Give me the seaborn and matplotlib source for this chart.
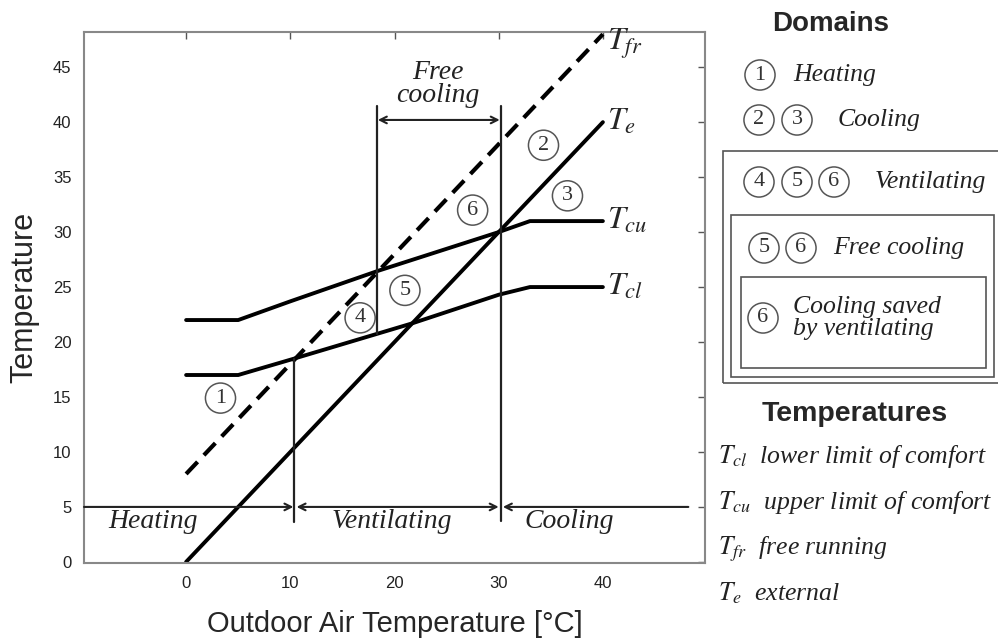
import matplotlib
matplotlib.use("Agg")
import matplotlib.pyplot as plt
import seaborn as sns
import pandas as pd
from matplotlib.patches import Rectangle

# ---------------- data ----------------
te_x = [0, 40]
te_y = [0, 40]
tfr_x = [0, 40]
tfr_y = [8, 48]
tcu_x = [0, 5, 10, 18.5, 30, 33, 40]
tcu_y = [22, 22, 23.7, 26.5, 30, 31, 31]
tcl_x = [0, 5, 10.4, 21.7, 30, 33, 40]
tcl_y = [17, 17, 18.5, 21.7, 24.3, 25, 25]

x_ticks = [0, 10, 20, 30, 40]
y_ticks = [0, 5, 10, 15, 20, 25, 30, 35, 40, 45]

line_labels = [r"$T_{fr}$", r"$T_{e}$", r"$T_{cu}$", r"$T_{cl}$"]
domain_names = ["Heating", "Ventilating", "Cooling"]
domain_bounds = [10.4, 30.2]
free_cooling_bounds = [18.3, 30.2]

circle_labels = ["1", "2", "3", "4", "5", "6"]

legend_domains = [
    (["1"], "Heating"),
    (["2", "3"], "Cooling"),
    (["4", "5", "6"], "Ventilating"),
    (["5", "6"], "Free cooling"),
    (["6"], "Cooling saved\nby ventilating"),
]
legend_temps = [
    (r"$T_{cl}$", "lower limit of comfort"),
    (r"$T_{cu}$", "upper limit of comfort"),
    (r"$T_{fr}$", "free running"),
    (r"$T_{e}$", "external"),
]

# ---------------- style ----------------
sns.set_theme(style="white")
plt.rcParams["font.family"] = ["Liberation Sans", "DejaVu Sans"]
plt.rcParams["mathtext.fontset"] = "stix"

SERIF = "Liberation Serif"

fig = plt.figure(figsize=(9.98, 6.4), dpi=100)
ax = fig.add_axes([84 / 998, 77 / 640, (705 - 84) / 998, (563 - 32) / 640])

df_lines = pd.concat([
    pd.DataFrame({"x": tfr_x, "y": tfr_y, "s": "Tfr"}),
    pd.DataFrame({"x": te_x, "y": te_y, "s": "Te"}),
    pd.DataFrame({"x": tcu_x, "y": tcu_y, "s": "Tcu"}),
    pd.DataFrame({"x": tcl_x, "y": tcl_y, "s": "Tcl"}),
])

sns.lineplot(data=df_lines[df_lines.s == "Tfr"], x="x", y="y", ax=ax, color="black",
             lw=3.0, estimator=None, sort=False)
ax.lines[-1].set_dashes([4.0, 2.2])
for s in ["Te", "Tcu", "Tcl"]:
    sns.lineplot(data=df_lines[df_lines.s == s], x="x", y="y", ax=ax, color="black",
                 lw=2.8, estimator=None, sort=False)

ax.set_xlim(-9.8, 49.8)
ax.set_ylim(-0.1, 48.2)
ax.set_xticks(x_ticks)
ax.set_yticks(y_ticks)
ax.tick_params(direction="in", length=5, width=1, colors="#555555", labelsize=12,
               labelcolor="#222222", top=True, right=True, labeltop=False, labelright=False,
               pad=9)
for sp in ax.spines.values():
    sp.set_color("#888888")
    sp.set_linewidth(1.5)
ax.set_xlabel("Outdoor Air Temperature [°C]", fontsize=21, labelpad=14)
ax.set_ylabel("Temperature", fontsize=22, labelpad=10)

# line end labels
ends = [(tfr_x[-1], tfr_y[-1] - 0.9), (te_x[-1], te_y[-1]), (tcu_x[-1], tcu_y[-1]), (tcl_x[-1], tcl_y[-1])]
for lab, (xe, ye) in zip(line_labels, ends):
    ax.text(xe + 0.4, ye, lab, fontsize=23, ha="left", va="center")

# vertical boundaries
vl_kw = dict(color="#222222", lw=1.6)
ax.plot([domain_bounds[0]] * 2, [3.6, 18.5], **vl_kw)
ax.plot([domain_bounds[1]] * 2, [3.7, 41.5], **vl_kw)
ax.plot([free_cooling_bounds[0]] * 2, [20.7, 41.5], **vl_kw)

# domain arrows at y = 5
arr = dict(color="#222222", lw=1.5, shrinkA=0, shrinkB=0, mutation_scale=12)
ax.annotate("", xy=(domain_bounds[0] - 0.1, 5), xytext=(-9.8, 5),
            arrowprops=dict(arrowstyle="->", **arr))
ax.annotate("", xy=(domain_bounds[1] - 0.2, 5), xytext=(domain_bounds[0] + 0.2, 5),
            arrowprops=dict(arrowstyle="<->", **arr))
ax.annotate("", xy=(domain_bounds[1] + 0.2, 5), xytext=(48.2, 5),
            arrowprops=dict(arrowstyle="->", **arr))
txt_kw = dict(fontsize=20, family=SERIF, style="italic", ha="center", va="center", color="#222222")
ax.text(-3.2, 3.7, domain_names[0], **txt_kw)
ax.text(19.75, 3.7, domain_names[1], **txt_kw)
ax.text(36.8, 3.7, domain_names[2], **txt_kw)

# free cooling arrow
ax.annotate("", xy=(free_cooling_bounds[1] - 0.1, 40.2), xytext=(free_cooling_bounds[0] + 0.1, 40.2),
            arrowprops=dict(arrowstyle="<->", **arr))
ax.text(24.2, 44.5, "Free", **txt_kw)
ax.text(24.2, 42.4, "cooling", **txt_kw)

# circled numbers in plot
circ_kw = dict(fontsize=16, family=SERIF, ha="center", va="center", color="#333333",
               bbox=dict(boxstyle="circle,pad=0.25", fc="white", ec="#555555", lw=1.1))
circ_pos = [(3.3, 14.9), (34.3, 37.9), (36.6, 33.3), (16.7, 22.2), (21.0, 24.7), (27.5, 32.0)]
for lab, (cx, cy) in zip(circle_labels, circ_pos):
    ax.text(cx, cy, lab, **circ_kw)

# ---------------- right panel ----------------
def fx(px):
    return px / 998

def fy(py):
    return 1 - py / 640

fig.text(fx(831), fy(24), "Domains", fontsize=20, weight="bold", ha="center", va="center")

legend_y = [75, 120, 182, 248, 318]
legend_circ_x = [[760], [759, 797], [759, 797, 834], [764, 801], [763]]
legend_text_x = [793, 838, 875, 833, 793]
for (nums, name), py, cxs, tx in zip(legend_domains, legend_y, legend_circ_x, legend_text_x):
    for n, cx in zip(nums, cxs):
        fig.text(fx(cx), fy(py), n, **circ_kw)
    fig.text(fx(tx), fy(py), name, fontsize=18.5, family=SERIF, style="italic",
             ha="left", va="center", linespacing=1.05, color="#222222")

boxes = [(723, 151, 1000, 383), (731, 215, 994, 377), (741, 277, 986, 368)]
for (x0, y0, x1, y1) in boxes:
    fig.add_artist(Rectangle((fx(x0), fy(y1)), fx(x1 - x0), (y1 - y0) / 640,
                             transform=fig.transFigure, fill=False, ec="#555555", lw=1.2))

fig.text(fx(855), fy(414), "Temperatures", fontsize=20.5, weight="bold", ha="center", va="center")
temp_y = [456, 503, 549, 593]
for (sym, desc), py in zip(legend_temps, temp_y):
    fig.text(fx(718), fy(py), sym + "  " + desc, fontsize=18.5, family=SERIF, style="italic",
             ha="left", va="center", color="#222222")

fig.savefig("out.png", dpi=100)
